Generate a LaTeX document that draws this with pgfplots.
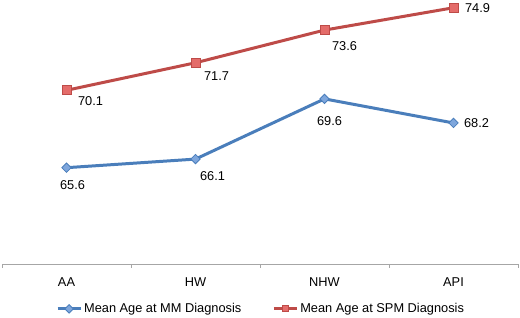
\documentclass[border=0pt]{standalone}
\usepackage{fontspec}
\setmainfont{Liberation Sans}
\usepackage{pgfplots}
\usepackage{pgfplotstable}
\pgfplotsset{compat=1.18}
\definecolor{mmblue}{HTML}{4A7EBB}
\definecolor{mmfill}{HTML}{7EA6DC}
\definecolor{spmred}{HTML}{BE4B48}
\definecolor{spmfill}{HTML}{E46C6A}
\definecolor{axgray}{HTML}{A6A6A6}
\pgfplotstableread{
x y dx dy lab
0 65.6 6 17 65.6
1 66.1 17 17 66.1
2 69.6 5 22 69.6
3 68.2 23 0 68.2
}\mmtab
\pgfplotstableread{
x y dx dy lab
0 70.1 24 11 70.1
1 71.7 21 13 71.7
2 73.6 20 16 73.6
3 74.9 24 0 74.9
}\spmtab
\newcommand{\lbl}{\fontsize{12.8bp}{15bp}\selectfont}
\begin{document}
\begin{tikzpicture}
\path[use as bounding box] (-2bp,-54bp) rectangle (518bp,264bp);
\begin{axis}[
  at={(0,0)}, anchor=south west,
  scale only axis, width=516bp, height=264bp,
  xmin=-0.5, xmax=3.5, ymin=60, ymax=75.35,
  clip=false,
  axis x line=bottom, axis y line=none,
  x axis line style={-, draw=axgray, line width=0.8bp},
  xtick={0,1,2,3}, xticklabels={AA,HW,NHW,API},
  major tick length=0pt,
  minor xtick={-0.5,0.5,1.5,2.5,3.5},
  minor tick length=3.5bp, tick align=outside,
  minor x tick style={draw=axgray, line width=0.8bp},
  xticklabel style={font=\lbl, anchor=center, yshift=-18bp},
  nodes near coords,
  visualization depends on={\thisrow{dx}\as\dx},
  visualization depends on={\thisrow{dy}\as\dy},
  every node near coord/.append style={anchor=center, font=\lbl, text=black,
     xshift=\dx*1bp, yshift=-\dy*1bp},
  legend style={at={(0.502,-0.170)}, anchor=center, draw=none, fill=none,
     font=\lbl, inner sep=0pt,
     /tikz/every even column/.append style={column sep=29bp}},
  legend columns=2, legend cell align=left,
  legend image code/.code={\draw[#1, mark repeat=2, mark phase=2, mark size=3bp] plot coordinates {(0bp,0bp) (11.5bp,0bp) (23bp,0bp)};},
]
\addplot[color=mmblue, line width=3bp, mark=square*, mark size=3.3bp,
  mark options={fill=mmfill, draw=mmblue, line width=0.8bp, rotate=45}]
  table[x=x, y=y, meta=lab, point meta=explicit symbolic] {\mmtab};
\addlegendentry{Mean Age at MM Diagnosis}
\addplot[color=spmred, line width=3bp, mark=square*, mark size=4.5bp,
  mark options={fill=spmfill, draw=spmred, line width=0.8bp}]
  table[x=x, y=y, meta=lab, point meta=explicit symbolic] {\spmtab};
\addlegendentry{Mean Age at SPM Diagnosis}
\end{axis}
\end{tikzpicture}
\end{document}
